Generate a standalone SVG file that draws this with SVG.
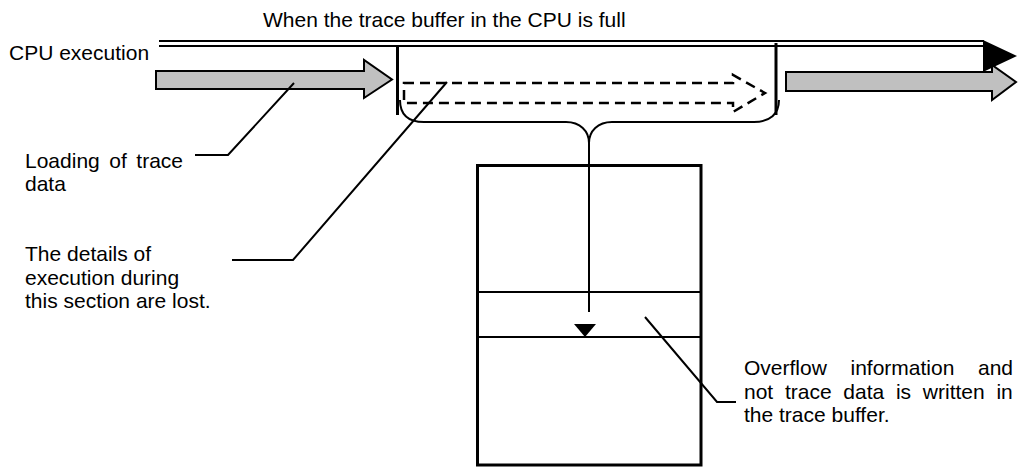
<svg xmlns="http://www.w3.org/2000/svg" width="1019" height="468" viewBox="0 0 1019 468">
<style>
text{font-family:"Liberation Sans",Arial,sans-serif;font-size:21px;fill:#000}
.ln{fill:none;stroke:#000;stroke-width:2}
.gray{fill:#c0c0c0;stroke:#000;stroke-width:2;stroke-linejoin:miter}
.bar{stroke:#000;stroke-width:3}
</style>
<rect width="1019" height="468" fill="#fff"/>
<g id="timeline">
<line x1="159" y1="41" x2="984" y2="41" class="ln"/>
<line x1="159" y1="46" x2="984" y2="46" class="ln"/>
<polygon points="983,40 1017,56 983,72" fill="#000"/>
</g>
<g id="label-top"><text x="263" y="27">When the trace buffer in the CPU is full</text></g>
<g id="label-cpu"><text x="9" y="60">CPU execution</text></g>
<g id="arrow-left"><polygon class="gray" points="156,71 364,71 364,60 392,79.5 364,98 364,89 156,89"/></g>
<g id="arrow-right"><polygon class="gray" points="786,72 992,72 992,65 1016,82 992,100 992,91 786,91"/></g>
<g id="bars">
<line x1="397.5" y1="45" x2="397.5" y2="115" class="bar"/>
<line x1="776" y1="43" x2="776" y2="115" class="bar"/>
</g>
<g id="arrow-dashed"><polygon points="404,83 733,83 733,75 765,93 733,112 733,103 404,103" fill="none" stroke="#000" stroke-width="2.5" stroke-dasharray="10,6"/></g>
<g id="brace"><path class="ln" stroke-width="2.5" d="M400,100 C400,114 408,122 424,122 L566,122 C580,122 589,131 589,143 C589,131 598,122 612,122 L754,122 C770,122 779,114 779,100"/></g>
<g id="buffer">
<rect x="477.5" y="165.5" width="223.5" height="299.5" fill="none" stroke="#000" stroke-width="3"/>
<line x1="477" y1="292" x2="701" y2="292" class="ln"/>
<line x1="477" y1="337" x2="701" y2="337" class="ln"/>
</g>
<g id="connectors">
<line x1="589" y1="143" x2="589" y2="312" class="ln"/>
<polygon points="574,324 596,324 585,337" fill="#000"/>
<polyline class="ln" points="195,155 228,155 294,83"/>
<polyline class="ln" points="232,260 293,260 447,82"/>
<polyline class="ln" points="645,317 717,402 736,402"/>
</g>
<g id="label-loading">
<text x="25" y="168" word-spacing="3.7">Loading of trace</text>
<text x="25" y="191">data</text>
</g>
<g id="label-lost">
<text x="25" y="261">The details of</text>
<text x="25" y="285">execution during</text>
<text x="25" y="308">this section are lost.</text>
</g>
<g id="label-overflow">
<text x="744" y="375" word-spacing="17.8">Overflow information and</text>
<text x="744" y="398.5" word-spacing="5.9">not trace data is written in</text>
<text x="744" y="422">the trace buffer.</text>
</g>
</svg>
